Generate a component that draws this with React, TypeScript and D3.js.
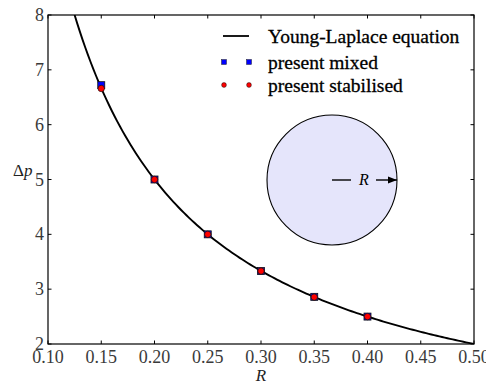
import React from "react";
import * as d3 from "d3";

const xTicks = [0.1, 0.15, 0.2, 0.25, 0.3, 0.35, 0.4, 0.45, 0.5];
const yTicks = [2, 3, 4, 5, 6, 7, 8];
const radii = [0.15, 0.2, 0.25, 0.3, 0.35, 0.4];
const mixedValues = [6.72, 5.0, 4.0, 3.33, 2.86, 2.5];
const stabilisedValues = [6.66, 5.0, 4.0, 3.33, 2.855, 2.5];
const legendLabels = ["Young-Laplace equation", "present mixed", "present stabilised"];

const W = 486, H = 387;
const L = 48, R = 474, T = 15, B = 344;
const FONT = "'Liberation Serif', 'Times New Roman', serif";

export default function App() {
  const x = d3.scaleLinear().domain([0.1, 0.5]).range([L, R]);
  const y = d3.scaleLinear().domain([2, 8]).range([B, T]);
  const curvePts = d3.range(0.125, 0.5001, 0.0025).map((r) => [r, 1 / r] as [number, number]);
  const line = d3.line<[number, number]>().x((d) => x(d[0])).y((d) => y(d[1]));
  const tl = 3.5;
  const cx = 332, cy = 180, cr = 65;
  const legendRows = [36, 62, 85];
  return (
    <svg width={W} height={H} style={{ position: "absolute", left: 0, top: 0 }}>
      <defs>
        <marker id="ah" viewBox="0 0 10 10" refX="10" refY="5" markerWidth="10" markerHeight="9" markerUnits="userSpaceOnUse" orient="auto">
          <path d="M0,1 L10,5 L0,9 z" fill="#000" />
        </marker>
        <clipPath id="clip"><rect x={L} y={T} width={R - L} height={B - T} /></clipPath>
      </defs>
      <rect width={W} height={H} fill="#fff" />
      {/* inset circle */}
      <circle cx={cx} cy={cy} r={cr} fill="#e5e5fb" stroke="#000" strokeWidth={1.1} />
      <line x1={cx} x2={cx + 19} y1={cy} y2={cy} stroke="#000" strokeWidth={1.4} />
      <text x={cx + 32} y={cy + 5} fontFamily={FONT} fontStyle="italic" fontSize={16} textAnchor="middle">R</text>
      <line x1={cx + 44} x2={cx + cr} y1={cy} y2={cy} stroke="#000" strokeWidth={1.4} markerEnd="url(#ah)" />
      {/* curve */}
      <path d={line(curvePts) || ""} fill="none" stroke="#000" strokeWidth={1.9} clipPath="url(#clip)" />
      {/* markers */}
      {radii.map((r, i) => (
        <rect key={"m" + i} x={x(r) - 3.5} y={y(mixedValues[i]) - 3.5} width={7} height={7} fill="#0000ff" stroke="#111" strokeWidth={0.8} />
      ))}
      {radii.map((r, i) => (
        <circle key={"s" + i} cx={x(r)} cy={y(stabilisedValues[i])} r={3.2} fill="#ff0000" stroke="#111" strokeWidth={0.7} />
      ))}
      {/* frame */}
      <rect x={L} y={T} width={R - L} height={B - T} fill="none" stroke="#000" strokeWidth={1.2} />
      {xTicks.map((t) => (
        <g key={"xt" + t}>
          <line x1={x(t)} x2={x(t)} y1={B} y2={B - tl} stroke="#000" />
          <line x1={x(t)} x2={x(t)} y1={T} y2={T + tl} stroke="#000" />
          <text x={x(t)} y={B + 19} fontFamily={FONT} fontSize={18} fill="#3a3a3a" textAnchor="middle">{t.toFixed(2)}</text>
        </g>
      ))}
      {yTicks.map((t) => (
        <g key={"yt" + t}>
          <line x1={L} x2={L + tl} y1={y(t)} y2={y(t)} stroke="#000" />
          <line x1={R} x2={R - tl} y1={y(t)} y2={y(t)} stroke="#000" />
          <text x={L - 4} y={y(t) + 6} fontFamily={FONT} fontSize={18} fill="#3a3a3a" textAnchor="end">{t}</text>
        </g>
      ))}
      <text x={261} y={381} fontFamily={FONT} fontStyle="italic" fontSize={17} textAnchor="middle" fill="#222">R</text>
      <text x={13} y={176} fontFamily={FONT} fontSize={17} fill="#222">
        <tspan>Δ</tspan><tspan fontStyle="italic">p</tspan>
      </text>
      {/* legend */}
      <line x1={223} x2={249} y1={legendRows[0]} y2={legendRows[0]} stroke="#000" strokeWidth={1.8} />
      {[224, 249].map((lx) => (
        <rect key={"lm" + lx} x={lx - 2.5} y={legendRows[1] - 2.5} width={5} height={5} fill="#0000ff" stroke="#222" strokeWidth={0.5} />
      ))}
      {[224, 249].map((lx) => (
        <circle key={"ls" + lx} cx={lx} cy={legendRows[2]} r={2.4} fill="#ff0000" stroke="#111" strokeWidth={0.5} />
      ))}
      {legendLabels.map((lab, i) => (
        <text key={lab} x={268} y={legendRows[i] + 7} fontFamily={FONT} fontSize={19.5} fill="#000" stroke="#000" strokeWidth={0.3}>{lab}</text>
      ))}
    </svg>
  );
}
